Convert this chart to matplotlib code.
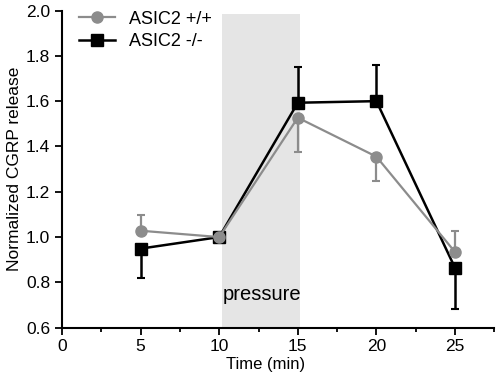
import matplotlib
matplotlib.use("Agg")
import matplotlib.pyplot as plt
from matplotlib.ticker import MultipleLocator
from matplotlib.lines import Line2D

plt.rcParams['font.family'] = ['Liberation Sans', 'DejaVu Sans']

time = [5, 10, 15, 20, 25]
wt_mean = [1.028, 1.0, 1.527, 1.355, 0.934]
wt_err = [0.07, 0.0, 0.15, 0.107, 0.092]
wt_dir = [1, 0, -1, -1, 1]  # +1 upper error, -1 lower error
ko_mean = [0.949, 1.0, 1.593, 1.600, 0.864]
ko_err = [0.13, 0.0, 0.158, 0.161, 0.181]
ko_dir = [-1, 0, 1, 1, -1]
labels = ['ASIC2 +/+', 'ASIC2 -/-']
pressure_span = (10.15, 15.15)
xticks = [0, 5, 10, 15, 20, 25]
yticks = [0.6, 0.8, 1.0, 1.2, 1.4, 1.6, 1.8, 2.0]

fig = plt.figure(figsize=(4.96, 3.76), dpi=100)
ax = fig.add_axes([0.125, 0.1285, 0.8716, 0.8435])

ax.fill_between(pressure_span, 0.6, 1.985, color='#e5e5e5', lw=0, zorder=0)
ax.text(pressure_span[0] + 0.05, 0.748, 'pressure', fontsize=14.5, ha='left', va='center', zorder=1)

def split(err, d):
    lo = [e if s < 0 else 0 for e, s in zip(err, d)]
    hi = [e if s > 0 else 0 for e, s in zip(err, d)]
    return [lo, hi]

gray = '#8c8c8c'
ax.errorbar(time, ko_mean, yerr=split(ko_err, ko_dir), color='black', lw=1.8,
            elinewidth=1.8, capsize=3, capthick=1.5, marker='s', markersize=8,
            zorder=3)
ax.errorbar(time, wt_mean, yerr=split(wt_err, wt_dir), color=gray, lw=1.6,
            elinewidth=1.6, capsize=3, capthick=1.5, marker='o', markersize=8,
            zorder=4)

ax.set_xlim(0, 27.5)
ax.set_ylim(0.6, 2.0)
ax.set_xticks(xticks)
ax.set_yticks(yticks)
ax.set_yticklabels([f'{v:.1f}' for v in yticks])
ax.xaxis.set_minor_locator(MultipleLocator(2.5))
ax.tick_params(axis='both', which='major', direction='out', length=5, width=1.3, labelsize=12.5)
ax.tick_params(axis='x', which='minor', direction='out', length=3, width=1.3)
for s in ['top', 'right']:
    ax.spines[s].set_visible(False)
for s in ['left', 'bottom']:
    ax.spines[s].set_linewidth(1.5)
ax.set_xlabel('Time (min)', fontsize=12, labelpad=1)
ax.xaxis.set_label_coords(0.471, -0.093)
ax.set_ylabel('Normalized CGRP release', fontsize=12.5, labelpad=3)

handles = [Line2D([], [], color=gray, lw=1.6, marker='o', markersize=8),
           Line2D([], [], color='black', lw=1.8, marker='s', markersize=8)]
leg = ax.legend(handles, labels, loc='upper left', bbox_to_anchor=(0.022, 1.022),
                frameon=False, fontsize=13, handlelength=2.0, handletextpad=0.8,
                labelspacing=0.3, borderaxespad=0)

fig.savefig('out.png', dpi=100)
